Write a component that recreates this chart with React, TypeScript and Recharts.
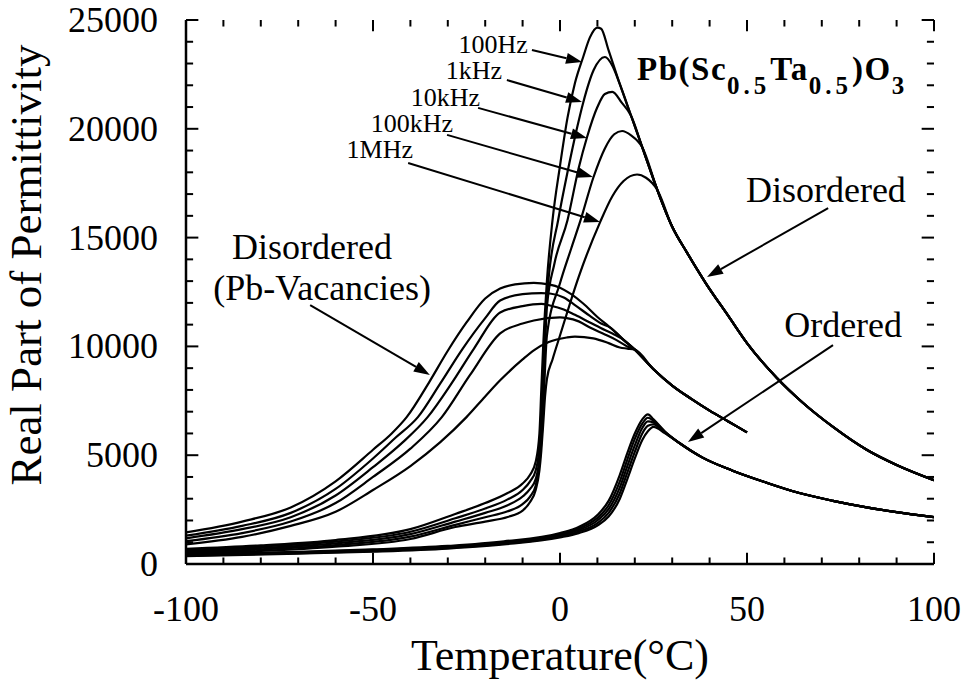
import React from 'react';
import { LineChart, Line, XAxis, YAxis, ReferenceLine, ReferenceDot } from 'recharts';

const SERIF = '"Liberation Serif", "DejaVu Serif", serif';

// axis ticks
const xTicks = [-100, -90, -80, -70, -60, -50, -40, -30, -20, -10, 0, 10, 20, 30, 40, 50, 60, 70, 80, 90, 100];
const yTicks = [0, 1000, 2000, 3000, 4000, 5000, 6000, 7000, 8000, 9000, 10000, 11000, 12000, 13000, 14000, 15000,
  16000, 17000, 18000, 19000, 20000, 21000, 22000, 23000, 24000, 25000];
const xLabels = [-100, -50, 0, 50, 100];
const yLabels = [0, 5000, 10000, 15000, 20000, 25000];

// [temperature °C, real permittivity]
// disordered PST, 100Hz .. 1MHz
const disTail = [[26, 17200], [30, 15500], [34, 14300], [39, 12900], [45, 11400], [50, 10150], [58, 8550],
  [65, 7400], [73, 6300], [82, 5250], [90, 4550], [100, 3850]];
const dis100Hz = [[-100, 700], [-80, 860], [-60, 1100], [-40, 1600], [-28, 2300], [-20, 2800], [-14, 3260],
  [-10, 3700], [-8, 4100], [-6.5, 4700], [-5.5, 6000], [-5, 8000], [-4.5, 10000], [-3.5, 13000], [-2, 15800],
  [0, 18300], [2, 20500], [4, 22100], [6.2, 23300], [8, 24200], [10, 24650], [11, 24600], [13, 23600],
  [16, 22050], [19, 20600], [22, 19150]];
const dis1kHz = [[-100, 650], [-80, 800], [-60, 1030], [-40, 1480], [-28, 2100], [-20, 2550], [-14, 2970],
  [-10, 3400], [-8, 3800], [-6.5, 4300], [-5.5, 5400], [-5, 7000], [-4.5, 9000], [-4, 11000], [-3, 13200],
  [-0.5, 15800], [2, 18000], [4.5, 20000], [6.2, 21200], [9, 22700], [12, 23300], [14, 22900], [16, 22050],
  [19, 20600], [22, 19150]];
const dis10kHz = [[-100, 600], [-80, 740], [-60, 950], [-40, 1370], [-28, 1950], [-20, 2350], [-14, 2700],
  [-10, 3100], [-8, 3450], [-6.5, 3900], [-5.5, 4900], [-5, 6200], [-4.5, 8000], [-4, 10000], [-3.5, 11800],
  [-1.5, 13800], [2, 15800], [5, 18200], [7.2, 19600], [10, 21000], [12, 21600], [14, 21700], [16.5, 21200],
  [19, 20600], [22, 19150]];
const dis100kHz = [[-100, 540], [-80, 670], [-60, 870], [-40, 1260], [-28, 1800], [-20, 2150], [-14, 2420],
  [-10, 2750], [-8, 3100], [-6.5, 3600], [-5.5, 4600], [-5, 5600], [-4.5, 7000], [-4, 9000], [-3.5, 10500],
  [0, 12900], [3, 14500], [5.5, 15800], [8.9, 17750], [12, 19100], [14.5, 19750], [16.6, 19900], [19, 19700],
  [22, 19150]];
const dis1MHz = [[-100, 480], [-80, 600], [-60, 800], [-40, 1150], [-28, 1700], [-20, 1950], [-14, 2160],
  [-10, 2450], [-8, 2850], [-6.5, 3400], [-5.5, 4300], [-5, 5200], [-4.5, 6400], [-4, 7700], [-3.5, 8500],
  [-2, 9400], [0, 10500], [5, 13200], [10.7, 15700], [14, 16900], [17, 17600], [20.6, 17900], [23, 17750]];

// disordered with Pb vacancies
const vacTail = [[20, 9850], [25, 8950], [30, 8200], [35, 7600], [40, 7050], [45, 6550], [50, 6050]];
const vac100Hz = [[-100, 1450], [-85, 1950], [-72, 2600], [-60, 3800], [-50, 5250], [-45, 6000], [-41, 6750],
  [-35, 8350], [-30, 9800], [-25, 11100], [-20, 12200], [-16, 12660], [-12, 12850], [-7, 12920], [-3, 12850],
  [0, 12700], [3, 12400], [6.2, 11970], [10, 11350], [13.4, 10870], [17, 10300]];
const vac1kHz = [[-100, 1300], [-85, 1750], [-72, 2350], [-60, 3450], [-50, 4850], [-44, 5800], [-38, 6750],
  [-32, 8300], [-26, 9900], [-20, 11300], [-16, 12110], [-10, 12400], [-5, 12450], [-2.7, 12430], [1, 12250],
  [4, 11900], [8, 11400], [11, 11050], [13.4, 10870], [17, 10300]];
const vac10kHz = [[-100, 1180], [-85, 1600], [-72, 2150], [-60, 3150], [-50, 4450], [-42, 5600], [-35.4, 6750],
  [-29, 8300], [-23, 9900], [-16, 11560], [-10, 11850], [-5, 11950], [-2.7, 11880], [1, 11700], [4, 11450],
  [8, 11100], [12, 10750], [14.5, 10550], [17, 10300]];
const vac100kHz = [[-100, 1050], [-85, 1420], [-72, 1950], [-60, 2800], [-50, 4000], [-40, 5300], [-31.6, 6750],
  [-24, 8700], [-16, 10600], [-10, 11050], [-7, 11190], [0, 11330], [1.8, 11300], [5, 11150], [8, 10870],
  [12, 10550], [15, 10300], [18, 10000]];
const vac1MHz = [[-100, 900], [-85, 1250], [-72, 1750], [-60, 2400], [-50, 3400], [-40, 4500], [-32, 5600],
  [-25, 6750], [-20, 7700], [-16, 8440], [-10, 9400], [-7, 9820], [-3, 10200], [1.8, 10410], [4, 10450],
  [8.9, 10370], [13, 10150], [16, 9950], [18, 9900]];

// ordered PST
const ordTail = [[32, 5550], [38, 4900], [46, 4300], [55, 3750], [64, 3260], [73, 2900], [82, 2600], [90, 2380],
  [100, 2150]];
const ordT = [-100, -70, -50, -30, -15, 0, 5, 10, 13, 16, 18, 20, 22, 23.5, 25, 28];
const ord100Hz = [440, 560, 670, 830, 1040, 1420, 1700, 2250, 2900, 4100, 5100, 6000, 6650, 6880, 6650, 6100];
const ord1kHz = [420, 540, 645, 800, 1000, 1370, 1630, 2120, 2700, 3800, 4800, 5750, 6450, 6720, 6580, 6080];
const ord10kHz = [400, 520, 620, 770, 960, 1320, 1560, 2000, 2520, 3520, 4500, 5450, 6250, 6550, 6500, 6060];
const ord100kHz = [380, 500, 595, 740, 930, 1270, 1490, 1880, 2350, 3250, 4200, 5150, 6000, 6350, 6420, 6040];
const ord1MHz = [360, 480, 570, 710, 900, 1220, 1420, 1770, 2180, 3000, 3900, 4850, 5700, 6100, 6300, 6020];

// annotations: text, anchor point [T, e]
const freqNotes = [
  { text: '100Hz', at: [-8.6, 23480] },
  { text: '1kHz', at: [-15.5, 22280] },
  { text: '10kHz', at: [-21.4, 21040] },
  { text: '100kHz', at: [-28.6, 19850] },
  { text: '1MHz', at: [-39.3, 18660] },
];
const bigNotes = [
  { text: 'Disordered', at: [71.1, 16640] },
  { text: 'Ordered', at: [75.7, 10430] },
  { text: 'Disordered', at: [-66.3, 14020] },
  { text: '(Pb-Vacancies)', at: [-63.6, 12150] },
];
const formulaAt = [20.6, 22240];
// arrows: from -> to
const arrows = [
  [[-7.5, 23620], [5.9, 23070]],
  [[-14.2, 22240], [5.9, 21230]],
  [[-21.9, 20960], [7.2, 19580]],
  [[-30.2, 19720], [8.8, 17790]],
  [[-40.6, 18430], [10.7, 15720]],
  [[71.7, 16360], [39.3, 13190]],
  [[73, 10060], [34.2, 5610]],
  [[-66.8, 11900], [-34.8, 8690]],
];

// inward tick lengths, in axis units
const xTickLen = { major: 520, minor: 300 };
const yTickLen = { major: 3.3, minor: 1.9 };

const rows = (pts: number[][]) => pts.map(([T, e]) => ({ T, e }));
const zipRows = (ts: number[], es: number[]) => ts.map((T, i) => ({ T, e: es[i] }));

const series = [
  rows([...dis100Hz, ...disTail]),
  rows([...dis1kHz, ...disTail]),
  rows([...dis10kHz, ...disTail]),
  rows([...dis100kHz, ...disTail]),
  rows([...dis1MHz, ...disTail]),
  rows([...vac100Hz, ...vacTail]),
  rows([...vac1kHz, ...vacTail]),
  rows([...vac10kHz, ...vacTail]),
  rows([...vac100kHz, ...vacTail]),
  rows([...vac1MHz, ...vacTail]),
  [...zipRows(ordT, ord100Hz), ...rows(ordTail)],
  [...zipRows(ordT, ord1kHz), ...rows(ordTail)],
  [...zipRows(ordT, ord10kHz), ...rows(ordTail)],
  [...zipRows(ordT, ord100kHz), ...rows(ordTail)],
  [...zipRows(ordT, ord1MHz), ...rows(ordTail)],
];

// tick marks on all four sides, pointing inwards
const tickSegs: { x: number; y: number }[][] = [];
xTicks.forEach((t) => {
  const len = xLabels.includes(t) ? xTickLen.major : xTickLen.minor;
  tickSegs.push([{ x: t, y: 0 }, { x: t, y: len }]);
  tickSegs.push([{ x: t, y: 25000 }, { x: t, y: 25000 - len }]);
});
yTicks.forEach((v) => {
  const len = yLabels.includes(v) ? yTickLen.major : yTickLen.minor;
  tickSegs.push([{ x: -100, y: v }, { x: -100 + len, y: v }]);
  tickSegs.push([{ x: 100, y: v }, { x: 100 - len, y: v }]);
});

const BottomTick = (p: any) => {
  const v = p.payload.value;
  if (!xLabels.includes(v)) return <g />;
  return (
    <text x={p.x} y={p.y + 57} textAnchor="middle" fontSize={36} fontFamily={SERIF} fill="#000">{v}</text>
  );
};
const LeftTick = (p: any) => {
  const v = p.payload.value;
  if (!yLabels.includes(v)) return <g />;
  return (
    <text x={p.x - 28} y={p.y + 12} textAnchor="end" fontSize={36} fontFamily={SERIF} fill="#000">{v}</text>
  );
};

const Arrow = (p: any) => {
  const { x1, y1, x2, y2 } = p;
  const a = Math.atan2(y2 - y1, x2 - x1);
  const L = 16;
  const W = 5.5;
  const bx = x2 - L * Math.cos(a);
  const by = y2 - L * Math.sin(a);
  const pts = `${x2},${y2} ${bx + W * Math.sin(a)},${by - W * Math.cos(a)} ${bx - W * Math.sin(a)},${by + W * Math.cos(a)}`;
  return (
    <g>
      <line x1={x1} y1={y1} x2={bx} y2={by} stroke="#000" strokeWidth={2} />
      <polygon points={pts} fill="#000" />
    </g>
  );
};

const xTitle = (p: any) => {
  const vb = p.viewBox;
  return (
    <text x={vb.x + vb.width / 2} y={vb.y + 106} textAnchor="middle" fontSize={44} fontFamily={SERIF} fill="#000">
      Temperature(°C)
    </text>
  );
};
const yTitle = (p: any) => {
  const vb = p.viewBox;
  const cx = vb.x + 41;
  const cy = vb.y + vb.height / 2 - 27;
  return (
    <text x={cx} y={cy} transform={`rotate(-90, ${cx}, ${cy})`} textAnchor="middle" fontSize={45}
      fontFamily={SERIF} fill="#000">
      Real Part of Permittivity
    </text>
  );
};

export default function App() {
  return (
    <div style={{ position: 'absolute', left: 0, top: 0, background: '#fff' }}>
      <LineChart width={965} height={687} margin={{ top: 20, right: 31, bottom: 0, left: 0 }}>
        <XAxis xAxisId="b" dataKey="T" type="number" domain={[-100, 100]} ticks={xTicks} interval={0}
          height={123} tickSize={0} tickMargin={0} tickLine={false} tick={<BottomTick />}
          axisLine={{ stroke: '#000', strokeWidth: 2.5 }} label={xTitle} allowDataOverflow />
        <XAxis xAxisId="t" orientation="top" dataKey="T" type="number" domain={[-100, 100]} ticks={xTicks}
          height={0} tickLine={false} tick={false} axisLine={{ stroke: '#000', strokeWidth: 2.5 }} allowDataOverflow />
        <YAxis yAxisId="l" type="number" domain={[0, 25000]} ticks={yTicks} interval={0} width={186}
          tickSize={0} tickMargin={0} tickLine={false} tick={<LeftTick />}
          axisLine={{ stroke: '#000', strokeWidth: 2.5 }} label={yTitle} allowDataOverflow />
        <YAxis yAxisId="r" orientation="right" type="number" domain={[0, 25000]} ticks={yTicks}
          width={0} tickLine={false} tick={false} axisLine={{ stroke: '#000', strokeWidth: 2.5 }} allowDataOverflow />

        {series.map((d, i) => (
          <Line key={i} xAxisId="b" yAxisId="l" data={d} dataKey="e" type="monotone" stroke="#000"
            strokeWidth={2.2} dot={false} activeDot={false} isAnimationActive={false} />
        ))}

        {tickSegs.map((s, i) => (
          <ReferenceLine key={`tk${i}`} xAxisId="b" yAxisId="l" segment={s} stroke="#000" strokeWidth={2}
            ifOverflow="visible" />
        ))}

        {arrows.map(([a, b], i) => (
          <ReferenceLine key={`ar${i}`} xAxisId="b" yAxisId="l" segment={[{ x: a[0], y: a[1] }, { x: b[0], y: b[1] }]}
            shape={Arrow} />
        ))}

        {freqNotes.map((n, i) => (
          <ReferenceDot key={`fn${i}`} xAxisId="b" yAxisId="l" x={n.at[0]} y={n.at[1]} r={0}
            shape={(p: any) => (
              <text x={p.cx} y={p.cy} textAnchor="end" fontSize={26} fontFamily={SERIF} fill="#000">{n.text}</text>
            )} />
        ))}
        {bigNotes.map((n, i) => (
          <ReferenceDot key={`bn${i}`} xAxisId="b" yAxisId="l" x={n.at[0]} y={n.at[1]} r={0}
            shape={(p: any) => (
              <text x={p.cx} y={p.cy} textAnchor="middle" fontSize={36} fontFamily={SERIF} fill="#000">{n.text}</text>
            )} />
        ))}
        <ReferenceDot xAxisId="b" yAxisId="l" x={formulaAt[0]} y={formulaAt[1]} r={0}
          shape={(p: any) => (
            <text x={p.cx} y={p.cy} fontSize={33} fontWeight="bold" fontFamily={SERIF} fill="#000" letterSpacing={1.5}>
              <tspan>Pb(Sc</tspan>
              <tspan fontSize={25} dy={14} letterSpacing={4}>0.5</tspan>
              <tspan dy={-14}>Ta</tspan>
              <tspan fontSize={25} dy={14} letterSpacing={4}>0.5</tspan>
              <tspan dy={-14}>)O</tspan>
              <tspan fontSize={25} dy={14}>3</tspan>
            </text>
          )} />
      </LineChart>
    </div>
  );
}
